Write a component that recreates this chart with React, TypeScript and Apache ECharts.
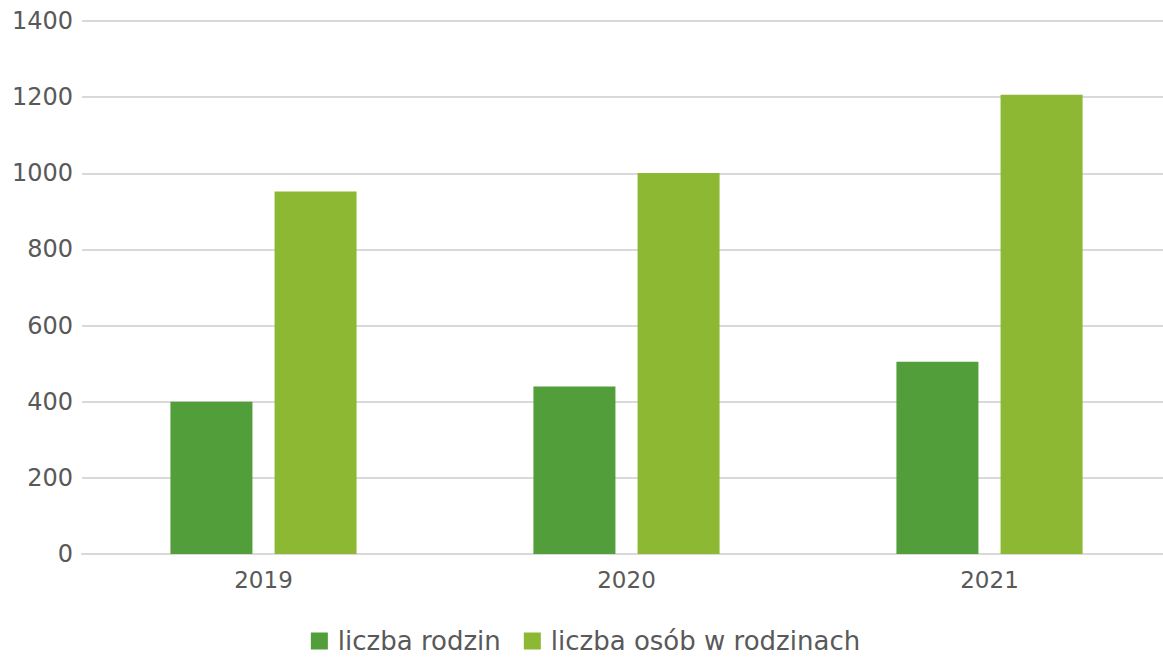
import React, { useEffect, useRef } from "react";
import * as echarts from "echarts";

const categories = ["2019", "2020", "2021"];
const families = [400, 440, 505];
const persons = [952, 1001, 1206];
const seriesNames = ["liczba rodzin", "liczba osób w rodzinach"];
const colors = ["#529e3a", "#8cb834"];

export default function App() {
  const ref = useRef<HTMLDivElement>(null);
  useEffect(() => {
    document.body.style.margin = "0";
    document.body.style.overflow = "hidden";
    const chart = echarts.init(ref.current!, null, { renderer: "svg" });
    const font = "'DejaVu Sans', sans-serif";
    chart.setOption({
      animation: false,
      grid: { left: 82, right: 0, top: 21, bottom: 104, containLabel: false },
      legend: {
        bottom: -1,
        left: "center",
        itemWidth: 17,
        itemHeight: 17,
        itemGap: 23,
        icon: "rect",
        textStyle: { fontFamily: font, fontSize: 26, color: "#595959", padding: [0, 0, 0, 5] },
        data: seriesNames,
      },
      xAxis: {
        type: "category",
        data: categories,
        axisLine: { lineStyle: { color: "#d9d9d9", width: 2 } },
        axisTick: { show: false },
        axisLabel: { fontFamily: font, fontSize: 23, color: "#595959", margin: 14 },
      },
      yAxis: {
        type: "value",
        min: 0,
        max: 1400,
        interval: 200,
        axisLine: { show: false },
        axisTick: { show: false },
        splitLine: { lineStyle: { color: "#d9d9d9", width: 2 } },
        axisLabel: { fontFamily: font, fontSize: 24, color: "#595959", margin: 9, formatter: (v: number) => String(v) },
      },
      series: [
        { name: seriesNames[0], type: "bar", data: families, barWidth: 82, barGap: "27%", itemStyle: { color: colors[0] } },
        { name: seriesNames[1], type: "bar", data: persons, barWidth: 82, barGap: "27%", itemStyle: { color: colors[1] } },
      ],
    });
    return () => chart.dispose();
  }, []);
  return <div ref={ref} style={{ width: 1171, height: 658, position: "absolute", left: 0, top: 0 }} />;
}
